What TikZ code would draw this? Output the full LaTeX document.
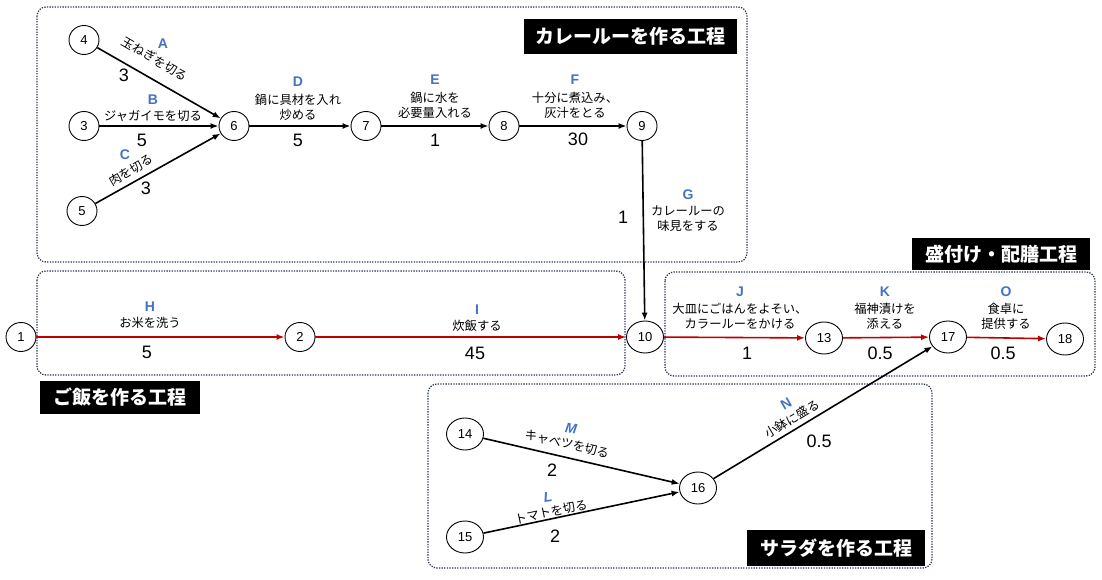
\documentclass[tikz,border=0pt]{standalone}
\usepackage{fontspec}
\setmainfont{Liberation Sans}
\newfontfamily\jp{Noto Sans CJK JP}
\usetikzlibrary{shapes.geometric,arrows.meta}
\definecolor{boxc}{RGB}{45,55,85}
\definecolor{redc}{RGB}{192,0,0}
\definecolor{tagc}{RGB}{68,114,196}
\tikzset{
  vtx/.style={ellipse,draw,line width=0.9pt,minimum width=30pt,minimum height=29pt,inner sep=0pt,font=\fontsize{13}{13}\selectfont,fill=white},
  vtxb/.style={vtx,minimum width=37pt,minimum height=32pt},
  lab/.style={font=\jp\fontsize{12.3}{15}\selectfont,align=center,inner sep=0pt},
  tag/.style={font=\bfseries\fontsize{14}{14}\selectfont,text=tagc,inner sep=0pt},
  num/.style={font=\fontsize{18}{18}\selectfont,inner sep=0pt},
  area/.style={draw=boxc,line width=1.3pt,dash pattern=on 1.3pt off 1.3pt,rounded corners=9pt},
  ttl/.style={fill=black,text=white,font=\jp\bfseries\fontsize{19}{19}\selectfont,inner sep=0pt},
  blk/.style={draw=black,line width=1.6pt,-{Latex[length=8pt,width=6pt]}},
  rd/.style={draw=redc,line width=1.6pt,-{Latex[length=8pt,width=6pt]}},
}
\begin{document}
\begin{tikzpicture}[x=1pt,y=-1pt]
\useasboundingbox (0,0) rectangle (1102,580);
% areas
\draw[area] (37,7) rectangle (747,262);
\draw[area] (37,271) rectangle (625,375);
\draw[area] (665,272) rectangle (1095,376);
\draw[area] (428,384) rectangle (932,568);
% titles
\node[ttl,minimum width=213pt,minimum height=35pt] (t1) at (630.5,36.5) {カレールーを作る工程};
\node[ttl,minimum width=178pt,minimum height=32pt] (t2) at (1001,254) {盛付け・配膳工程};
\node[ttl,minimum width=160pt,minimum height=33pt] (t3) at (120,397.5) {ご飯を作る工程};
\node[ttl,minimum width=178pt,minimum height=36pt] (t4) at (836,548) {サラダを作る工程};
% vertices
\node[vtx] (n4) at (84,40) {4};
\node[vtx] (n3) at (84,126) {3};
\node[vtx] (n5) at (82,211) {5};
\node[vtx] (n6) at (234,126) {6};
\node[vtx] (n7) at (366,126) {7};
\node[vtx] (n8) at (504,126) {8};
\node[vtx] (n9) at (642,126) {9};
\node[vtx] (n1) at (21,337) {1};
\node[vtx] (n2) at (300,337) {2};
\node[vtxb] (n10) at (645,337) {10};
\node[vtxb] (n13) at (824,338) {13};
\node[vtxb] (n17) at (948,337) {17};
\node[vtxb] (n18) at (1065,339) {18};
\node[vtxb] (n14) at (465,434) {14};
\node[vtxb] (n15) at (465,537) {15};
\node[vtxb] (n16) at (698,488) {16};
% edges
\draw[blk] (n4) -- (n6);
\draw[blk] (n3) -- (n6);
\draw[blk] (n5) -- (n6);
\draw[blk] (n6) -- (n7);
\draw[blk] (n7) -- (n8);
\draw[blk] (n8) -- (n9);
\draw[blk] (n9) -- (n10);
\draw[rd] (n1) -- (n2);
\draw[rd] (n2) -- (n10);
\draw[rd] (n10) -- (n13);
\draw[rd] (n13) -- (n17);
\draw[rd] (n17) -- (n18);
\draw[blk] (n14) -- (n16);
\draw[blk] (n15) -- (n16);
\draw[blk] (n16) -- (n17);
% labels A
\node[tag] (tA) at (163,44) {A};
\node[lab,rotate=-30] (lA) at (155,59) {玉ねぎを切る};
\node[num] (vA) at (124,75) {3};
% B
\node[tag] (tB) at (153,100) {B};
\node[lab] (lB) at (153,116) {ジャガイモを切る};
\node[num] (vB) at (142,140) {5};
% C
\node[tag] (tC) at (125,155) {C};
\node[lab,rotate=30] (lC) at (131,170) {肉を切る};
\node[num] (vC) at (146,188) {3};
% D
\node[tag] (tD) at (298,82) {D};
\node[lab] (lD) at (298,107) {鍋に具材を入れ\\炒める};
\node[num] (vD) at (298,140) {5};
% E
\node[tag] (tE) at (435,80) {E};
\node[lab] (lE) at (435,105) {鍋に水を\\必要量入れる};
\node[num] (vE) at (435,140) {1};
% F
\node[tag] (tF) at (575,80) {F};
\node[lab] (lF) at (575,105) {十分に煮込み、\\灰汁をとる};
\node[num] (vF) at (578,139) {30};
% G
\node[tag] (tG) at (688,195) {G};
\node[lab] (lG) at (688,219) {カレールーの\\味見をする};
\node[num] (vG) at (623,217) {1};
% H
\node[tag] (tH) at (150,307) {H};
\node[lab] (lH) at (150,323) {お米を洗う};
\node[num] (vH) at (147,352) {5};
% I
\node[tag] (tI) at (477,310) {I};
\node[lab] (lI) at (477,326) {炊飯する};
\node[num] (vI) at (475,353) {45};
% J
\node[tag] (tJ) at (740,292) {J};
\node[lab] (lJ) at (740,316) {大皿にごはんをよそい、\\カラールーをかける};
\node[num] (vJ) at (747,353) {1};
% K
\node[tag] (tK) at (885,292) {K};
\node[lab] (lK) at (885,316) {福神漬けを\\添える};
\node[num] (vK) at (880,353) {0.5};
% O
\node[tag] (tO) at (1006,292) {O};
\node[lab] (lO) at (1006,316) {食卓に\\提供する};
\node[num] (vO) at (1003,353) {0.5};
% M
\node[tag,rotate=-8] (tM) at (571,429) {\itshape M};
\node[lab,rotate=-13] (lM) at (567,444) {キャベツを切る};
\node[num] (vM) at (552,470) {2};
% L
\node[tag,rotate=8] (tL) at (548,497) {\itshape L};
\node[lab,rotate=12] (lL) at (551,512) {トマトを切る};
\node[num] (vL) at (555,536) {2};
% N
\node[tag,rotate=30] (tN) at (786,404) {N};
\node[lab,rotate=31] (lN) at (792,419) {小鉢に盛る};
\node[num] (vN) at (819,441) {0.5};
\end{tikzpicture}
\end{document}
